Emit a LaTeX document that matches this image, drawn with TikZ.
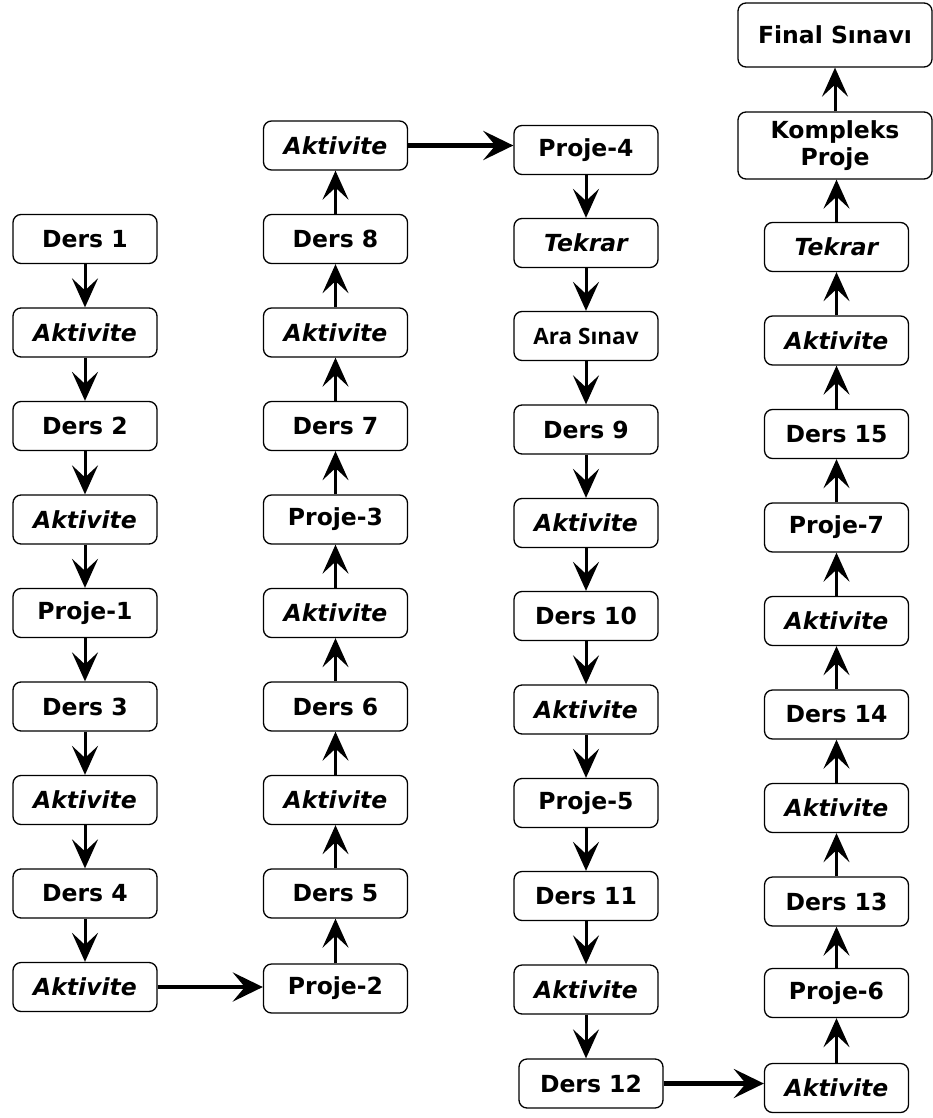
\documentclass[tikz,border=0pt]{standalone}
\usepackage{fontspec}
\setmainfont{DejaVu Sans}
\newfontfamily\arafont{Open Sans}
\usetikzlibrary{arrows.meta}

\tikzset{
  box/.style={draw, rounded corners=8pt, line width=1.3pt, minimum width=144pt,
    minimum height=49pt, inner sep=0pt, align=center,
    font=\fontsize{23.5}{27}\selectfont\bfseries},
  ibox/.style={box, font=\fontsize{23.5}{27}\selectfont\bfseries\itshape},
  wbox/.style={box, minimum width=194pt},
  arr/.style={line width=3pt, -{Stealth[length=29pt,width=26pt,inset=12pt]}},
  harr/.style={line width=4.5pt, -{Stealth[length=30pt,width=29pt,inset=12pt]}}
}

\begin{document}
\begin{tikzpicture}[x=1pt,y=-1pt]
    \useasboundingbox (0,0) rectangle (933,1118);
    \fill[white] (0,0) rectangle (933,1118);
    % first column, going down
    \node[box]  (d1) at (85,239)   {Ders 1};
    \node[ibox] (a1) at (85,332.5) {Aktivite};
    \node[box]  (d2) at (85,426)   {Ders 2};
    \node[ibox] (a2) at (85,519.5) {Aktivite};
    \node[box]  (p1) at (85,613)   {Proje-1};
    \node[box]  (d3) at (85,706.5) {Ders 3};
    \node[ibox] (a3) at (85,800)   {Aktivite};
    \node[box]  (d4) at (85,893.5) {Ders 4};
    \node[ibox] (a4) at (85,987)   {Aktivite};
    % second column, going up
    \node[box]  (p2) at (335.5,988.5) {Proje-2};
    \node[box]  (d5) at (335.5,893.5) {Ders 5};
    \node[ibox] (a5) at (335.5,800)   {Aktivite};
    \node[box]  (d6) at (335.5,706.5) {Ders 6};
    \node[ibox] (a6) at (335.5,613)   {Aktivite};
    \node[box]  (p3) at (335.5,519.5) {Proje-3};
    \node[box]  (d7) at (335.5,426)   {Ders 7};
    \node[ibox] (a7) at (335.5,332.5) {Aktivite};
    \node[box]  (d8) at (335.5,239)   {Ders 8};
    \node[ibox] (a8) at (335.5,145.5) {Aktivite};
    % third column, going down
    \node[box]  (p4)  at (586,150)    {Proje-4};
    \node[ibox] (t1)  at (586,243)    {Tekrar};
    \node[box,font=\fontsize{22.5}{26}\selectfont\arafont\bfseries] (ara) at (586,336) {Ara Sınav};
    \node[box]  (d9)  at (586,429.5)  {Ders 9};
    \node[ibox] (a9)  at (586,523)    {Aktivite};
    \node[box]  (d10) at (586,616)    {Ders 10};
    \node[ibox] (a10) at (586,709.5)  {Aktivite};
    \node[box]  (p5)  at (586,803)    {Proje-5};
    \node[box]  (d11) at (586,896)    {Ders 11};
    \node[ibox] (a11) at (586,989.5)  {Aktivite};
    \node[box]  (d12) at (591,1083.5) {Ders 12};
    % fourth column, going up
    \node[ibox] (a12) at (836.5,1088)  {Aktivite};
    \node[box]  (p6)  at (836.5,993)   {Proje-6};
    \node[box]  (d13) at (836.5,901.5) {Ders 13};
    \node[ibox] (a13) at (836.5,808)   {Aktivite};
    \node[box]  (d14) at (836.5,714.5) {Ders 14};
    \node[ibox] (a14) at (836.5,621)   {Aktivite};
    \node[box]  (p7)  at (836.5,527.5) {Proje-7};
    \node[box]  (d15) at (836.5,434)   {Ders 15};
    \node[ibox] (a15) at (836.5,340.5) {Aktivite};
    \node[ibox] (t2)  at (836.5,247)   {Tekrar};
    \node[wbox,minimum height=67pt] (kp) at (835,145.5) {Kompleks\\Proje};
    \node[wbox,minimum height=64pt] (fs) at (835,35)    {Final Sınavı};
    % arrows of the first column
    \draw[arr] (d1) -- (a1);
    \draw[arr] (a1) -- (d2);
    \draw[arr] (d2) -- (a2);
    \draw[arr] (a2) -- (p1);
    \draw[arr] (p1) -- (d3);
    \draw[arr] (d3) -- (a3);
    \draw[arr] (a3) -- (d4);
    \draw[arr] (d4) -- (a4);
    \draw[harr] (a4.east) -- (a4.east -| p2.west);
    % arrows of the second column
    \draw[arr] (p2) -- (d5);
    \draw[arr] (d5) -- (a5);
    \draw[arr] (a5) -- (d6);
    \draw[arr] (d6) -- (a6);
    \draw[arr] (a6) -- (p3);
    \draw[arr] (p3) -- (d7);
    \draw[arr] (d7) -- (a7);
    \draw[arr] (a7) -- (d8);
    \draw[arr] (d8) -- (a8);
    \draw[harr] (a8.east) -- (a8.east -| p4.west);
    % arrows of the third column
    \draw[arr] (p4) -- (t1);
    \draw[arr] (t1) -- (ara);
    \draw[arr] (ara) -- (d9);
    \draw[arr] (d9) -- (a9);
    \draw[arr] (a9) -- (d10);
    \draw[arr] (d10) -- (a10);
    \draw[arr] (a10) -- (p5);
    \draw[arr] (p5) -- (d11);
    \draw[arr] (d11) -- (a11);
    \draw[arr] (a11.south) -- (a11.south |- d12.north);
    \draw[harr] (d12.east) -- (d12.east -| a12.west);
    % arrows of the fourth column
    \draw[arr] (a12) -- (p6);
    \draw[arr] (p6) -- (d13);
    \draw[arr] (d13) -- (a13);
    \draw[arr] (a13) -- (d14);
    \draw[arr] (d14) -- (a14);
    \draw[arr] (a14) -- (p7);
    \draw[arr] (p7) -- (d15);
    \draw[arr] (d15) -- (a15);
    \draw[arr] (a15) -- (t2);
    \draw[arr] (t2.north) -- (t2.north |- kp.south);
    \draw[arr] (kp) -- (fs);
  \end{tikzpicture}
\end{document}
